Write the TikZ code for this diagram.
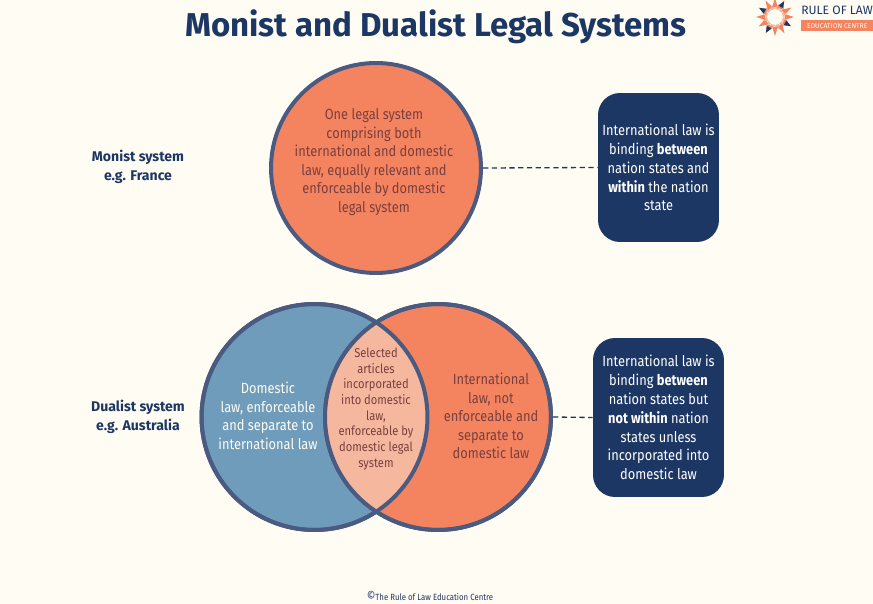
\documentclass[tikz,border=0pt]{standalone}
\usepackage{fontspec}
\setmainfont{Fira Sans}[FakeStretch=0.87]
\newfontfamily\titlefont{Fira Sans}
\usetikzlibrary{positioning}
\definecolor{pagecream}{HTML}{FFFCF3}
\definecolor{lawnavy}{HTML}{1C3764}
\definecolor{lawrim}{HTML}{4A5A80}
\definecolor{laworange}{HTML}{F4845F}
\definecolor{lawblue}{HTML}{6F9CBB}
\definecolor{lawlens}{HTML}{F5B89E}
\definecolor{lawink}{HTML}{7A3F3F}

\begin{document}
\begin{tikzpicture}[x=0.02cm, y=-0.02cm,
  bigcirc/.style={circle, draw=lawrim, line width=0.08cm, minimum size=4.2cm, inner sep=0pt},
  venncirc/.style={circle, draw=lawrim, line width=0.08cm, minimum size=4.52cm, inner sep=0pt},
  infobox/.style={fill=lawnavy, rounded corners=0.44cm, text=white, align=center,
    inner sep=0pt, font=\fontsize{8.4}{10.75}\selectfont},
  circtext/.style={align=center, inner sep=0pt, font=\fontsize{8.4}{10.6}\selectfont},
  rowlabel/.style={align=center, inner sep=0pt, text=lawnavy,
    font=\titlefont\fontsize{8}{10.8}\selectfont\bfseries},
  link/.style={densely dashed, lawnavy, line width=0.026cm}
]
  \useasboundingbox[fill=pagecream] (0,0) rectangle (873,604);

  \node[font=\titlefont\fontsize{18.8}{20}\selectfont\bfseries, text=lawnavy, inner sep=0pt] (title) at (436,27)
    {Monist and Dualist Legal Systems};

  % logo
  \foreach \a in {0,30,...,330} {
    \fill[laworange] ({775+19*cos(\a)},{17+19*sin(\a)}) -- ({775+10*cos(\a+17)},{17+10*sin(\a+17)})
      -- ({775+10*cos(\a-17)},{17+10*sin(\a-17)}) -- cycle;
    \fill[lawlens] ({775+13*cos(\a+15)},{17+13*sin(\a+15)}) -- ({775+8*cos(\a+30)},{17+8*sin(\a+30)})
      -- ({775+8*cos(\a)},{17+8*sin(\a)}) -- cycle;
  }
  \foreach \a in {30,120,210,300} {
    \fill[lawnavy] ({775+18*cos(\a)},{17+18*sin(\a)}) -- ({775+12*cos(\a+14)},{17+12*sin(\a+14)})
      -- ({775+12*cos(\a-14)},{17+12*sin(\a-14)}) -- cycle;
  }
  \node[anchor=west, inner sep=0pt, text=lawnavy, font=\titlefont\fontsize{6.9}{7}\selectfont] (logoname) at (801,10) {RULE OF LAW};
  \node[fill=laworange, anchor=north west, inner sep=0pt, minimum width=1.44cm, minimum height=0.22cm,
    text=pagecream, font=\titlefont\fontsize{3.9}{4}\selectfont] (logoband) at (801,20) {EDUCATION CENTRE};

  \node[rowlabel] (monist) at (138,166.5) {Monist system\\e.g. France};
  \node[rowlabel] (dualist) at (138,416.5) {Dualist system\\e.g. Australia};

  \node[bigcirc, fill=laworange] (single) at (376,168) {};
  \node[circtext, text=lawink] (singletext) at (374,162)
    {One legal system\\comprising both\\international and domestic\\law, equally relevant and\\enforceable by domestic\\legal system};

  \node[venncirc, fill=lawblue] (domestic) at (314.5,417) {};
  \node[venncirc, fill=laworange] (intl) at (438,417) {};
  \begin{scope}
    \clip (314.5,417) circle [radius=113];
    \fill[lawlens] (438,417) circle [radius=113];
  \end{scope}
  \node[venncirc] at (314.5,417) {};
  \node[venncirc] at (438,417) {};

  \node[circtext, text=pagecream] (domtext) at (268,416)
    {Domestic\\law, enforceable\\and separate to\\international law};
  \node[circtext, text=lawink] (inttext) at (491,416)
    {International\\law, not\\enforceable and\\separate to\\domestic law};
  \node[circtext, text=lawink, font=\fontsize{7.3}{8.9}\selectfont] (lenstext) at (376,409)
    {Selected\\articles\\incorporated\\into domestic\\law,\\enforceable by\\domestic legal\\system};

  \node[infobox, minimum width=2.42cm, minimum height=2.98cm] (bindone) at (658.5,167.5)
    {International law is\\binding \textbf{between}\\nation states and\\\textbf{within} the nation\\state};
  \node[infobox, minimum width=2.62cm, minimum height=3.18cm] (bindtwo) at (658.5,417.5)
    {International law is\\binding \textbf{between}\\nation states but\\\textbf{not within} nation\\states unless\\incorporated into\\domestic law};

  \draw[link] (single.east) -- (bindone.west);
  \draw[link] (intl.east) -- (bindtwo.west);

  \node[inner sep=0pt, text=lawnavy, font=\fontsize{5.1}{5}\selectfont] (credit) at (430,596) {{\fontsize{7}{5}\selectfont\textcopyright}The Rule of Law Education Centre};
\end{tikzpicture}
\end{document}
